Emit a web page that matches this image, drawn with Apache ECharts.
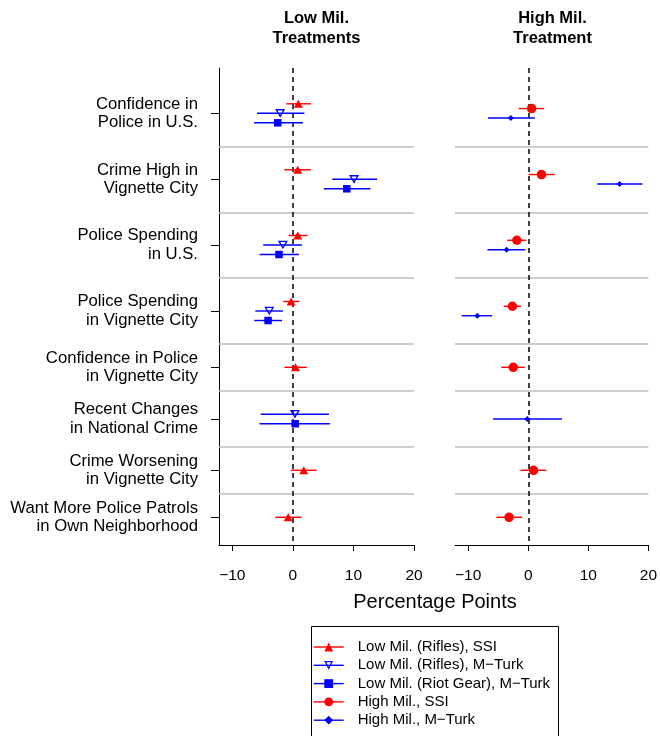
<!DOCTYPE html>
<html><head><meta charset="utf-8">
<script src="https://cdn.jsdelivr.net/npm/echarts@6/dist/echarts.min.js"></script>
<style>html,body{margin:0;padding:0;background:#fff}#c{width:660px;height:736px}</style>
</head><body><div id="c"></div>
<script>
// ---------------- DATA ----------------
const categories = [
  'Confidence in\nPolice in U.S.',
  'Crime High in\nVignette City',
  'Police Spending\nin U.S.',
  'Police Spending\nin Vignette City',
  'Confidence in Police\nin Vignette City',
  'Recent Changes\nin National Crime',
  'Crime Worsening\nin Vignette City',
  'Want More Police Patrols\nin Own Neighborhood'
];
const xTicks = [-10, 0, 10, 20];
const seriesNames = ['Low Mil. (Rifles), SSI', 'Low Mil. (Rifles), M\u2212Turk', 'Low Mil. (Riot Gear), M\u2212Turk', 'High Mil., SSI', 'High Mil., M\u2212Turk'];

const lowRiflesSSI    = [0.9, 0.8, 0.8, -0.3, 0.43, null, 1.8, -0.78];
const lowRiflesSSI_lo = [-1.1, -1.4, -0.7, -1.6, -1.4, null, -0.33, -2.9];
const lowRiflesSSI_hi = [3.0, 3.0, 2.4, 1.1, 2.3, null, 3.9, 1.4];

const lowRiflesMT     = [-2.1, 10.1, -1.65, -3.9, null, 0.33, null, null];
const lowRiflesMT_lo  = [-5.9, 6.5, -4.9, -6.2, null, -5.3, null, null];
const lowRiflesMT_hi  = [1.9, 13.9, 1.5, -1.65, null, 5.95, null, null];

const lowRiotMT       = [-2.5, 8.9, -2.3, -4.1, null, 0.38, null, null];
const lowRiotMT_lo    = [-6.4, 5.1, -5.5, -6.4, null, -5.5, null, null];
const lowRiotMT_hi    = [1.65, 12.8, 1.0, -1.8, null, 6.1, null, null];

const highSSI         = [0.55, 2.2, -1.9, -2.65, -2.5, null, 0.88, -3.2];
const highSSI_lo      = [-1.6, 0.05, -3.5, -4.1, -4.5, null, -1.3, -5.3];
const highSSI_hi      = [2.65, 4.4, -0.33, -1.2, -0.6, null, 3.0, -1.0];

const highMT          = [-2.9, 15.2, -3.6, -8.5, null, -0.17, null, null];
const highMT_lo       = [-6.7, 11.5, -6.8, -11.1, null, -5.85, null, null];
const highMT_hi       = [1.1, 19.0, -0.5, -6.0, null, 5.6, null, null];

// ---------------- LAYOUT ----------------
const rowCenters = [45.3, 111.3, 177, 243, 299.3, 351, 402.3, 449.3];
const separators = [79, 145, 210, 276, 323, 379, 426];
const Y_MAX = 477;
const ITEM_GAP = 9.5;
const FONT = '"Liberation Sans", Arial, Helvetica, sans-serif';
const RED = '#ff0000', BLUE = '#0000ff';
const triDownPath = 'path://M0,0 L10,0 L5,8.66 Z M2.3,1.45 L5,6.0 L7.7,1.45 Z';

const groups = [
  { name: seriesNames[0], grid: 0, est: lowRiflesSSI, lo: lowRiflesSSI_lo, hi: lowRiflesSSI_hi, color: RED, symbol: 'triangle', size: [9, 8] },
  { name: seriesNames[1], grid: 0, est: lowRiflesMT, lo: lowRiflesMT_lo, hi: lowRiflesMT_hi, color: BLUE, symbol: triDownPath, size: [10, 8.7] },
  { name: seriesNames[2], grid: 0, est: lowRiotMT, lo: lowRiotMT_lo, hi: lowRiotMT_hi, color: BLUE, symbol: 'rect', size: 7.5 },
  { name: seriesNames[3], grid: 1, est: highSSI, lo: highSSI_lo, hi: highSSI_hi, color: RED, symbol: 'circle', size: 9.5 },
  { name: seriesNames[4], grid: 1, est: highMT, lo: highMT_lo, hi: highMT_hi, color: BLUE, symbol: 'diamond', size: 6 }
];

// compute vertical positions: items of a panel present in a row are centred on the row
function yPositions(g) {
  const panel = groups.filter(o => o.grid === g.grid);
  return g.est.map((v, i) => {
    if (v == null) return null;
    const present = panel.filter(o => o.est[i] != null);
    const k = present.indexOf(g);
    return rowCenters[i] + (k - (present.length - 1) / 2) * ITEM_GAP;
  });
}

const fmt = v => (v < 0 ? '\u2212' + Math.abs(v) : String(v));

const series = [];
[0, 1].forEach(gi => {
  series.push({
    type: 'line', name: 'guides' + gi, xAxisIndex: gi, yAxisIndex: gi, data: [], silent: true,
    markLine: {
      silent: true, animation: false, symbol: ['none', 'none'], label: { show: false },
      data: separators.map(s => ({ yAxis: s, lineStyle: { color: '#bebebe', width: 1.5, type: 'solid' } }))
        .concat([{ xAxis: 0, lineStyle: { color: '#000', width: 1.5, type: [5, 4] } }]),
      z: 1
    }
  });
});

groups.forEach(g => {
  const ys = yPositions(g);
  const ci = [], pts = [];
  g.est.forEach((v, i) => {
    if (v == null) return;
    ci.push([g.lo[i], g.hi[i], ys[i]]);
    pts.push([v, ys[i]]);
  });
  series.push({
    type: 'custom', name: g.name + ' CI', xAxisIndex: g.grid, yAxisIndex: g.grid, silent: true, z: 3,
    encode: { x: [0, 1], y: 2 },
    data: ci,
    renderItem: (params, api) => {
      const a = api.coord([api.value(0), api.value(2)]);
      const b = api.coord([api.value(1), api.value(2)]);
      return { type: 'line', shape: { x1: a[0], y1: a[1], x2: b[0], y2: b[1] }, style: { stroke: g.color, lineWidth: 1.4 } };
    }
  });
  series.push({
    type: 'line', name: g.name, xAxisIndex: g.grid, yAxisIndex: g.grid, z: 5, silent: true,
    data: pts, symbol: g.symbol, symbolSize: g.size, showSymbol: true, showAllSymbol: true,
    symbolKeepAspect: false,
    lineStyle: { width: 0, opacity: 0 }, itemStyle: { color: g.color, opacity: 1 },
    emphasis: { disabled: true }
  });
});

const xAxisBase = {
  type: 'value', min: -12.2, max: 20,
  axisLine: { show: true, onZero: false, lineStyle: { color: '#000', width: 1 } },
  axisTick: { show: true, length: 6, customValues: xTicks, lineStyle: { color: '#000', width: 1 } },
  axisLabel: { customValues: xTicks, formatter: fmt, fontSize: 15.5, color: '#000', fontFamily: FONT, margin: 23 },
  splitLine: { show: false }
};

const option = {
  animation: false,
  backgroundColor: '#fff',
  grid: [
    { left: 219, top: 68, width: 195, height: 477 },
    { left: 455, top: 68, width: 195, height: 477 }
  ],
  xAxis: [Object.assign({ gridIndex: 0 }, xAxisBase), Object.assign({ gridIndex: 1 }, xAxisBase)],
  yAxis: [
    {
      gridIndex: 0, type: 'value', min: 0, max: Y_MAX, inverse: true,
      axisLine: { show: true, onZero: false, lineStyle: { color: '#000', width: 1 } },
      axisTick: { show: true, length: 8, customValues: rowCenters, lineStyle: { color: '#000', width: 1 } },
      axisLabel: {
        customValues: rowCenters, formatter: v => categories[rowCenters.indexOf(v)],
        fontSize: 16.7, lineHeight: 18.5, color: '#000', fontFamily: FONT, margin: 21, align: 'right'
      },
      splitLine: { show: false }
    },
    {
      gridIndex: 1, type: 'value', min: 0, max: Y_MAX, inverse: true,
      axisLine: { show: false }, axisTick: { show: false }, axisLabel: { show: false }, splitLine: { show: false }
    }
  ],
  legend: {
    orient: 'vertical', left: 313, top: 638, padding: 0, itemGap: 0.3,
    itemWidth: 30, itemHeight: 11, selectedMode: false,
    data: seriesNames.map(n => ({ name: n })),
    lineStyle: { width: 1.4, opacity: 1 },
    textStyle: { fontSize: 15, color: '#000', fontFamily: FONT, lineHeight: 18, padding: [0, 0, 0, 9] }
  },
  graphic: [
    { type: 'text', style: { text: 'Low Mil.\nTreatments', x: 316.5, y: 28.5, align: 'center', verticalAlign: 'middle', lineHeight: 20, font: 'bold 16.5px ' + FONT, fill: '#000' } },
    { type: 'text', style: { text: 'High Mil.\nTreatment', x: 552.5, y: 28.5, align: 'center', verticalAlign: 'middle', lineHeight: 20, font: 'bold 16.5px ' + FONT, fill: '#000' } },
    { type: 'text', style: { text: 'Percentage Points', x: 435, y: 602, align: 'center', verticalAlign: 'middle', font: '20px ' + FONT, fill: '#000' } },
    { type: 'rect', shape: { x: 311.5, y: 626.5, width: 247, height: 130 }, style: { fill: 'none', stroke: '#000', lineWidth: 1 } }
  ],
  series: series
};

const chart = echarts.init(document.getElementById('c'), null, { renderer: 'canvas' });
chart.setOption(option);
</script>
</body></html>
